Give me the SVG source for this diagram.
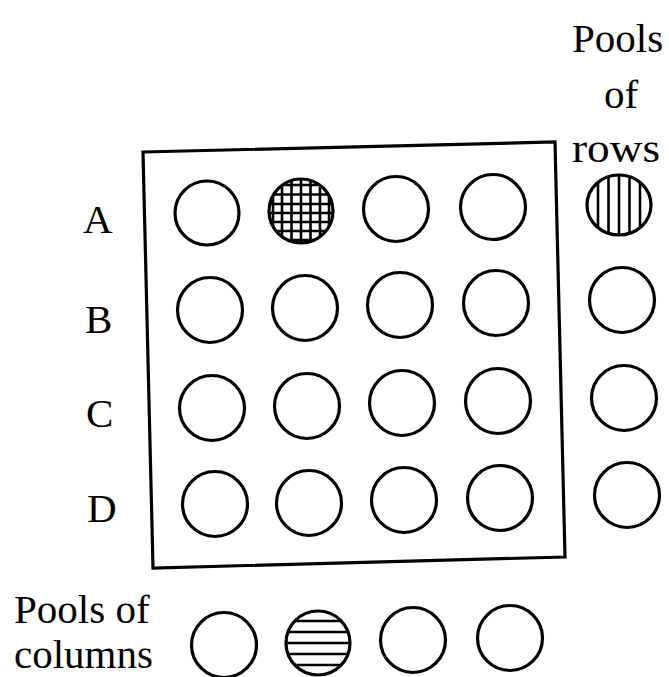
<svg xmlns="http://www.w3.org/2000/svg" width="669" height="677" viewBox="0 0 669 677">
<style>
.c{fill:none;stroke:#000;stroke-width:3.2}
.h{stroke:#000;stroke-width:2.6;fill:none}
.t{font-family:"Liberation Serif","Times New Roman",serif;font-size:41px;fill:#000}
.frame{fill:none;stroke:#000;stroke-width:3.2;stroke-linejoin:miter}
</style>
<defs>
<clipPath id="clipA2"><circle cx="301" cy="211" r="31"/></clipPath>
<clipPath id="clipRA"><ellipse cx="619" cy="205" rx="31" ry="29"/></clipPath>
<clipPath id="clipB2"><circle cx="318" cy="643" r="31"/></clipPath>
</defs>
<rect width="669" height="677" fill="#fff"/>
<g id="plate">
<polygon class="frame" points="143,152 555,142 565,557 153,568"/>
</g>
<g id="labels">
<text class="t" x="83" y="233">A</text>
<text class="t" x="85" y="333">B</text>
<text class="t" x="86" y="427">C</text>
<text class="t" x="87" y="522">D</text>
<text class="t" x="572" y="52">Pools</text>
<text class="t" x="604" y="108">of</text>
<text class="t" x="572" y="162" textLength="88" lengthAdjust="spacingAndGlyphs">rows</text>
<text class="t" x="14" y="623">Pools of</text>
<text class="t" x="14" y="668">columns</text>
</g>
<g id="wells">
<g id="A1"><circle class="c" cx="207" cy="213" r="32"/></g>
<g id="A2">
<g clip-path="url(#clipA2)">
<path class="h" d="M273,170V250M282,170V250M291.5,170V250M301,170V250M310.5,170V250M320,170V250M329,170V250M260,185H340M260,194.5H340M260,204H340M260,213H340M260,222H340M260,231H340M260,240H340"/>
</g>
<circle class="c" cx="301" cy="211" r="32"/>
</g>
<g id="A3"><circle class="c" cx="396" cy="209" r="32.5"/></g>
<g id="A4"><circle class="c" cx="493" cy="207" r="32.5"/></g>
<g id="B1"><circle class="c" cx="210" cy="310" r="32.5"/></g>
<g id="B2"><circle class="c" cx="305" cy="308" r="32.5"/></g>
<g id="B3"><circle class="c" cx="400" cy="305" r="32.5"/></g>
<g id="B4"><circle class="c" cx="496" cy="303" r="32.5"/></g>
<g id="C1"><circle class="c" cx="212" cy="408" r="32.5"/></g>
<g id="C2"><circle class="c" cx="307" cy="406" r="32.5"/></g>
<g id="C3"><circle class="c" cx="402" cy="403" r="32.5"/></g>
<g id="C4"><circle class="c" cx="498" cy="401" r="32.5"/></g>
<g id="D1"><circle class="c" cx="215" cy="504" r="32.5"/></g>
<g id="D2"><circle class="c" cx="309" cy="503" r="32.5"/></g>
<g id="D3"><circle class="c" cx="404" cy="500" r="32.5"/></g>
<g id="D4"><circle class="c" cx="500" cy="498" r="32.5"/></g>
</g>
<g id="row-pools">
<g id="RA">
<g clip-path="url(#clipRA)">
<path class="h" d="M598,170V240M608.5,170V240M619,170V240M629.5,170V240M640,170V240"/>
</g>
<ellipse class="c" cx="619" cy="205" rx="32" ry="30"/>
</g>
<g id="RB"><circle class="c" cx="622" cy="300" r="32.5"/></g>
<g id="RC"><circle class="c" cx="624" cy="398" r="32.5"/></g>
<g id="RD"><circle class="c" cx="627" cy="495" r="32.5"/></g>
</g>
<g id="column-pools">
<g id="P1"><circle class="c" cx="224" cy="645" r="32.5"/></g>
<g id="P2">
<g clip-path="url(#clipB2)">
<path class="h" d="M280,621H360M280,632H360M280,643H360M280,654H360M280,665H360"/>
</g>
<circle class="c" cx="318" cy="643" r="32"/>
</g>
<g id="P3"><circle class="c" cx="413" cy="640" r="32.5"/></g>
<g id="P4"><circle class="c" cx="510" cy="638" r="32.5"/></g>
</g>
<g id="connectors"/>
</svg>
